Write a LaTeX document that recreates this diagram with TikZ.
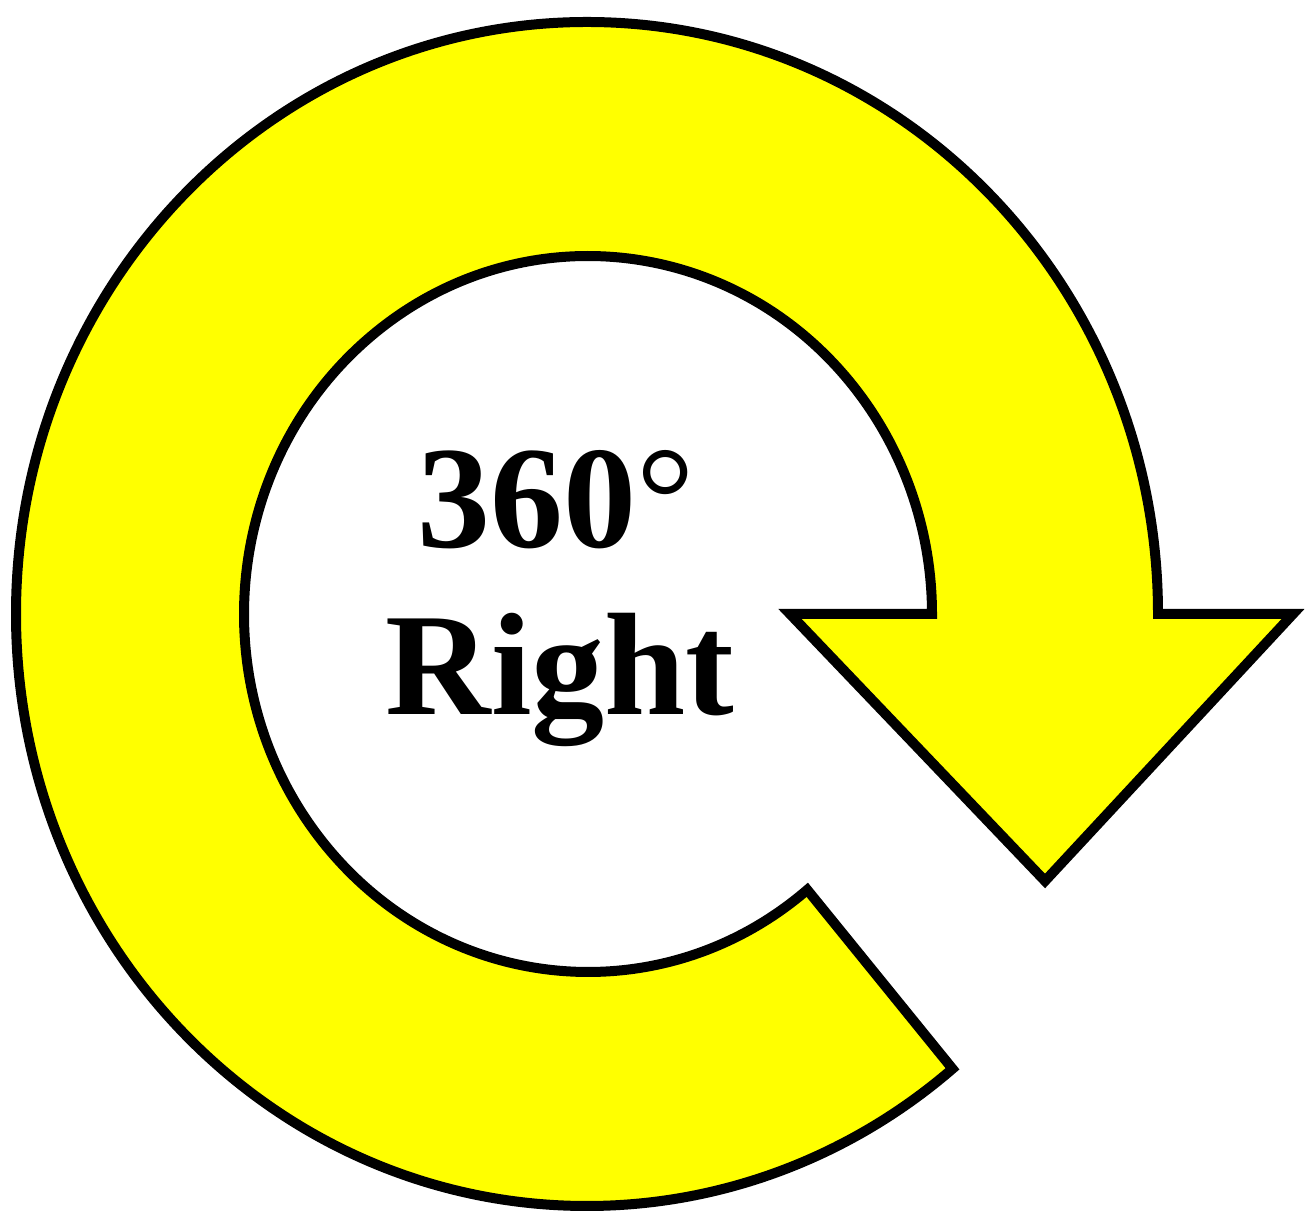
\documentclass[tikz,border=0pt]{standalone}
\usepackage{fontspec}
\usetikzlibrary{calc}
\setmainfont{Liberation Serif}
\definecolor{arrowyellow}{RGB}{255,255,0}
\begin{document}
\begin{tikzpicture}[x=1pt,y=1pt,
  ring/.style={draw=black, fill=arrowyellow, line width=10pt, line join=miter, miter limit=10},
  label/.style={font=\bfseries\fontsize{146}{160}\selectfont, anchor=base, inner sep=0pt}]
\useasboundingbox (0,0) rectangle (1309,1223);
\fill[white] (0,0) rectangle (1309,1223);
% ring with arrowhead
\coordinate (c) at (588,609);
\draw[ring] (1158,609)
  arc[start angle=0, end angle=309.8, x radius=571, y radius=592]
  -- ($(c)+(309.6:344 and 358)$)
  arc[start angle=309.6, end angle=0, x radius=344, y radius=358]
  -- (790,609) -- (1045,342) -- (1293,609) -- cycle;
\node[label] (t1) at (556,675) {360{\mdseries °}};
\node[label] (t2) at (560,508) {Right};
\end{tikzpicture}
\end{document}
